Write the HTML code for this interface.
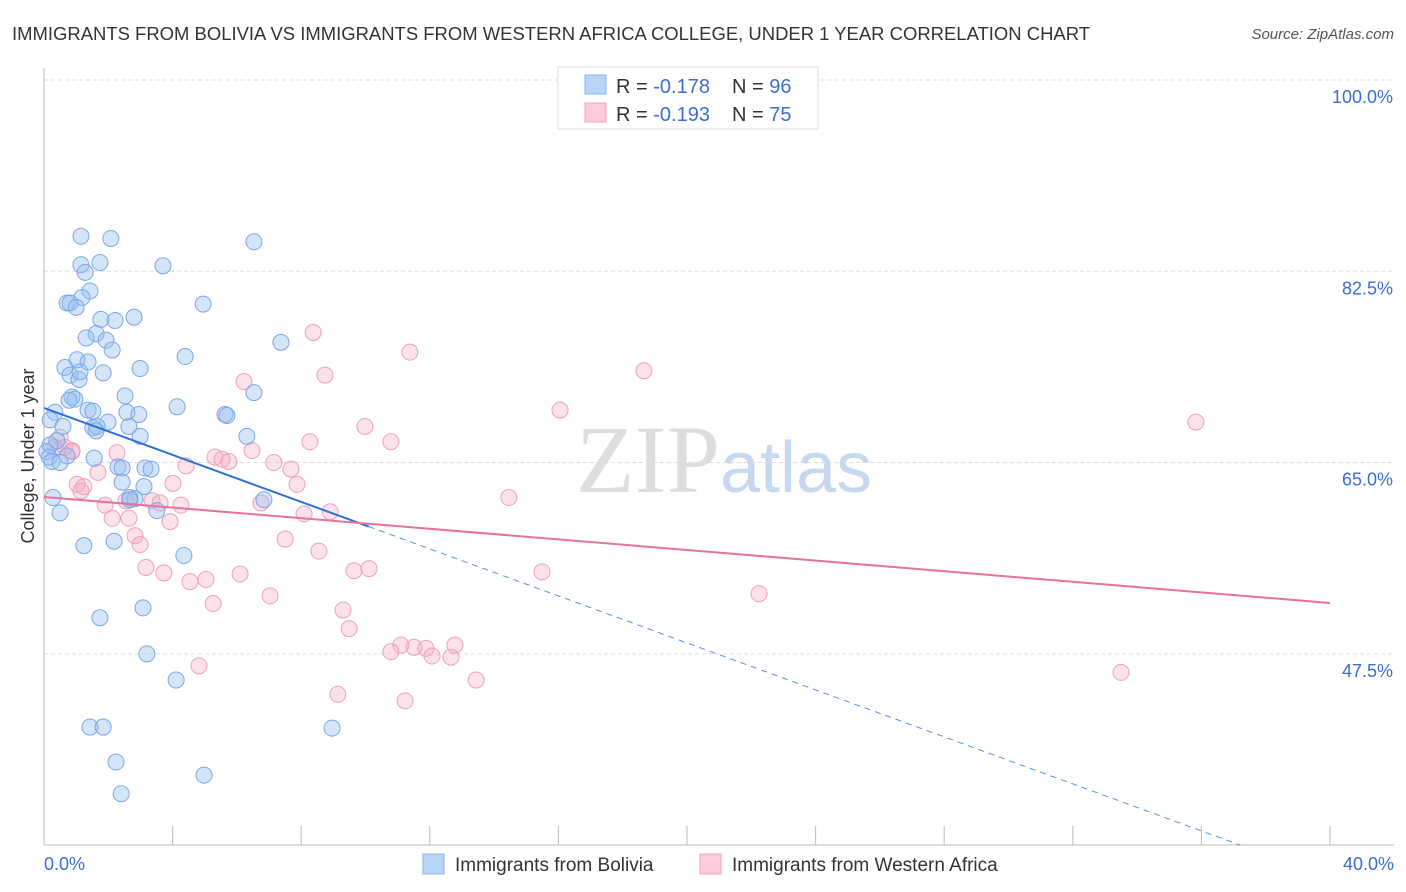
<!DOCTYPE html>
<html><head><meta charset="utf-8">
<style>
body{margin:0;background:#fff;font-family:"Liberation Sans",sans-serif;}
#wrap{position:relative;width:1406px;height:892px;overflow:hidden;}
</style></head>
<body>
<div id="wrap">
<svg id="chart" width="1406" height="892" xmlns="http://www.w3.org/2000/svg">
<text x="12" y="40" font-size="18" fill="#333" textLength="1078" lengthAdjust="spacingAndGlyphs">IMMIGRANTS FROM BOLIVIA VS IMMIGRANTS FROM WESTERN AFRICA COLLEGE, UNDER 1 YEAR CORRELATION CHART</text>
<text x="1394" y="39" font-size="15" fill="#555" font-style="italic" text-anchor="end">Source: ZipAtlas.com</text>
<text x="720" y="492" font-size="96" fill="#ddd" text-anchor="end" font-family="Liberation Serif,serif">ZIP</text>
<text x="720" y="492" font-size="72" fill="#c6d8ef">atlas</text>
<text transform="translate(34,456) rotate(-90)" font-size="18" fill="#333" text-anchor="middle">College, Under 1 year</text>
<g id="grid"></g><g id="pts"></g><g id="lines"></g>
<g>
<rect x="558" y="67" width="260" height="62" fill="#fff" stroke="#ddd"/>
<rect x="585" y="75" width="21" height="19" fill="#b8d4f6" stroke="#8ab3e8"/>
<rect x="585" y="103" width="21" height="19" fill="#fbcbd9" stroke="#f0a5bd"/>
<text x="616" y="93" font-size="20" fill="#333">R = <tspan fill="#3a6fd0">-0.178</tspan></text>
<text x="732" y="93" font-size="20" fill="#333">N = <tspan fill="#3a6fd0">96</tspan></text>
<text x="616" y="121" font-size="20" fill="#333">R = <tspan fill="#3a6fd0">-0.193</tspan></text>
<text x="732" y="121" font-size="20" fill="#333">N = <tspan fill="#3a6fd0">75</tspan></text>
</g>
<g>
<rect x="423" y="854" width="21" height="20" fill="#b8d4f6" stroke="#8ab3e8"/>
<text x="455" y="871" font-size="19" fill="#333">Immigrants from Bolivia</text>
<rect x="700" y="854" width="21" height="20" fill="#fbcbd9" stroke="#f0a5bd"/>
<text x="732" y="871" font-size="19" fill="#333">Immigrants from Western Africa</text>
</g>
</svg>
</div>
<script>
const yTicks=[100,82.5,65,47.5];
const yTickLabels=["100.0%","82.5%","65.0%","47.5%"];
const xTickLabels=["0.0%","40.0%"];
const boliviaX=[1.15,2.08,6.53,1.15,1.74,3.70,1.28,1.43,1.18,0.72,0.81,1.00,4.95,2.21,2.80,1.77,1.62,1.31,1.93,2.12,4.39,7.37,1.03,1.37,0.65,2.99,0.81,1.84,1.09,1.12,6.53,0.87,0.96,2.52,0.78,4.14,0.34,1.37,1.52,2.58,2.95,5.63,5.69,0.19,1.99,0.59,1.52,1.65,2.64,1.62,2.99,6.31,0.40,0.19,0.09,0.16,0.72,1.56,0.25,0.50,2.30,2.43,3.14,3.33,2.43,3.11,2.67,2.83,6.84,2.67,3.51,0.28,0.50,1.24,2.18,4.35,3.08,1.74,3.20,4.11,1.43,1.84,8.96,2.24,4.98,2.40];
const boliviaY=[85.7,85.5,85.2,83.1,83.3,83.0,82.4,80.7,80.1,79.6,79.6,79.2,79.5,78.0,78.3,78.1,76.8,76.4,76.2,75.3,74.7,76.0,74.4,74.2,73.7,73.6,73.0,73.2,72.6,73.3,71.4,71.0,70.8,71.1,70.7,70.1,69.6,69.8,69.7,69.6,69.4,69.4,69.3,68.9,68.7,68.3,68.2,68.3,68.3,67.9,67.4,67.4,67.0,66.6,66.0,65.5,65.6,65.4,65.1,65.0,64.6,64.5,64.5,64.4,63.2,62.8,61.8,61.7,61.6,61.6,60.6,61.8,60.4,57.4,57.8,56.5,51.7,50.8,47.5,45.1,40.8,40.8,40.7,37.6,36.4,34.7];
const africaX=[8.37,11.38,18.66,8.74,6.22,16.05,35.83,9.98,10.79,8.27,0.50,0.34,0.87,6.47,5.32,5.54,5.75,4.42,7.15,7.68,1.68,2.27,4.01,7.87,1.03,1.24,1.15,14.46,2.55,3.36,3.61,6.75,1.90,4.26,8.09,8.90,2.12,2.64,3.92,2.83,7.50,2.99,8.55,3.17,3.73,6.10,9.64,10.11,15.49,5.04,4.54,7.03,22.24,5.26,9.30,9.49,11.10,10.79,11.51,11.88,12.07,12.66,12.78,13.44,4.82,9.14,11.23,33.50,0.65,0.87];
const africaY=[76.9,75.1,73.4,73.0,72.4,69.8,68.7,68.3,66.9,66.9,67.3,66.4,66.1,66.1,65.5,65.3,65.1,64.7,65.0,64.4,64.1,65.9,63.1,63.0,63.0,62.8,62.4,61.8,61.5,61.5,61.3,61.3,61.1,61.1,60.3,60.5,59.9,59.9,59.6,58.3,58.0,57.5,56.9,55.4,54.9,54.8,55.1,55.3,55.0,54.3,54.1,52.8,53.0,52.1,51.5,49.8,48.3,47.7,48.1,48.0,47.3,47.2,48.3,45.1,46.4,43.8,43.2,45.8,66.4,66.0];
const boliviaTrend=[70.0,-1.075,10.1];
const africaTrend=[61.85,-0.2425];
const NS="http://www.w3.org/2000/svg";
const X0=44,X1=1330,Y0=80,PY=10.93;
function xs(v){return X0+(X1-X0)*v/40;}
function ys(v){return Y0+(100-v)*PY;}
function mk(t,a,p){const e=document.createElementNS(NS,t);for(const k in a)e.setAttribute(k,a[k]);p.appendChild(e);return e;}
const grid=document.getElementById('grid');
yTicks.forEach((t,i)=>{
 const l=mk('line',{x1:X0,x2:1394,y1:ys(t),y2:ys(t),stroke:'#ddd','stroke-dasharray':'4,3'},grid);
 
 
 const tx=mk('text',{x:1393,y:ys(t)+23,'font-size':18,fill:'#3a6fd0','text-anchor':'end'},grid);
 tx.textContent=yTickLabels[i];
 
 
});
const ax=mk('line',{x1:X0,x2:1394,y1:845,y2:845,stroke:'#bbb'},grid);


const ay=mk('line',{x1:X0,x2:X0,y1:68,y2:845,stroke:'#bbb'},grid);


for(let i=1;i<=10;i++){
 const t=mk('line',{x1:xs(i*4),x2:xs(i*4),y1:826,y2:845,stroke:'#bbb'},grid);
 
 
}
[[0,'start',44],[40,'end',1394]].forEach((d,i)=>{
 const t=mk('text',{x:d[2],y:870,'font-size':18,fill:'#3a6fd0','text-anchor':d[1]},grid);
 t.textContent=xTickLabels[i];
 
 
});
const pts=document.getElementById('pts');
africaX.forEach((x,i)=>{
 const c=mk('circle',{cx:xs(x),cy:ys(africaY[i]),r:8,fill:'rgba(244,170,195,0.35)',stroke:'#eca0bb','stroke-width':1},pts);
 
 
});
boliviaX.forEach((x,i)=>{
 const c=mk('circle',{cx:xs(x),cy:ys(boliviaY[i]),r:8,fill:'rgba(150,190,240,0.4)',stroke:'#7aa8e4','stroke-width':1},pts);
 
 
});
const lines=document.getElementById('lines');
const bEnd=boliviaTrend[2], bAt=x=>boliviaTrend[0]+boliviaTrend[1]*x;
const xz=(30-boliviaTrend[0])/boliviaTrend[1];
const b1=mk('line',{x1:xs(0),y1:ys(bAt(0)),x2:xs(bEnd),y2:ys(bAt(bEnd)),stroke:'#2f6fd6','stroke-width':2},lines);


const b2=mk('line',{x1:xs(bEnd),y1:ys(bAt(bEnd)),x2:xs(xz),y2:ys(30),stroke:'#5a8fe0','stroke-width':1,'stroke-dasharray':'6,5'},lines);


const p1=mk('line',{x1:xs(0),y1:ys(africaTrend[0]),x2:xs(40),y2:ys(africaTrend[0]+africaTrend[1]*40),stroke:'#e8719a','stroke-width':2},lines);


</script>
</body></html>
